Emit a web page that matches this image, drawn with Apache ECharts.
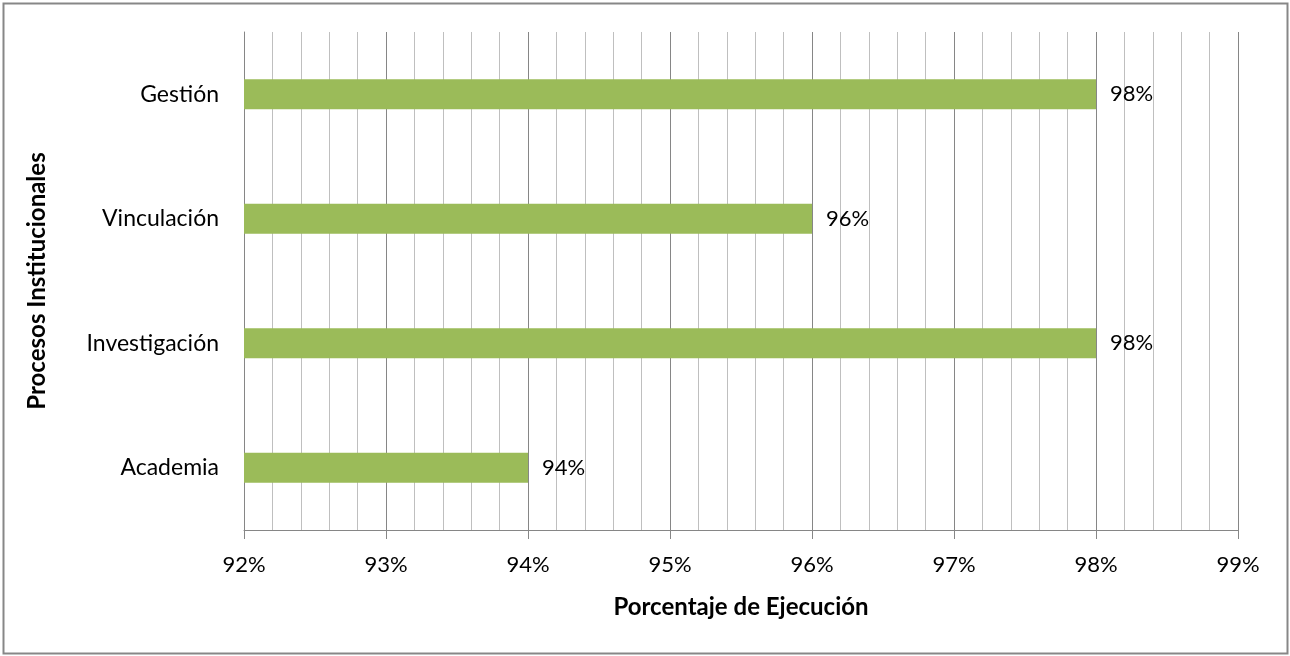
<!DOCTYPE html>
<html>
<head>
<meta charset="utf-8">
<script src="https://cdn.jsdelivr.net/npm/echarts@6/dist/echarts.min.js"></script>
<style>
  html, body { margin: 0; padding: 0; background: #fff; }
  #chart { width: 1290px; height: 656px; }
</style>
</head>
<body>
<div id="chart"></div>
<script>
// categories from bottom to top
const procesos = ['Academia', 'Investigación', 'Vinculación', 'Gestión'];
const ejecucion = [94, 98, 96, 98];
const xMin = 92;
const xMax = 99;

const font = 'Lato, "Open Sans", sans-serif';

let chart = echarts.init(document.getElementById('chart'));
chart.setOption({
  animation: false,
  textStyle: { fontFamily: font },
  graphic: [{
    type: 'rect',
    shape: { x: 3.5, y: 3.5, width: 1284, height: 650 },
    style: { fill: 'none', stroke: '#878787', lineWidth: 2 },
    silent: true
  }],
  grid: {
    left: 244,
    right: 52,
    top: 32,
    bottom: 126
  },
  xAxis: {
    type: 'value',
    min: xMin,
    max: xMax,
    interval: 1,
    name: 'Porcentaje de Ejecución',
    nameLocation: 'middle',
    nameGap: 65,
    nameTextStyle: { fontFamily: font, fontSize: 24, fontWeight: 'bold', color: '#000' },
    axisLine: { show: true, lineStyle: { color: '#868686', width: 1 } },
    axisTick: { show: true, length: 9, lineStyle: { color: '#868686' } },
    axisLabel: {
      formatter: '{value}%',
      fontFamily: font,
      fontSize: 22,
      color: '#000',
      margin: 24
    },
    splitLine: { show: true, lineStyle: { color: '#868686', width: 1 } },
    minorTick: { show: false, splitNumber: 5 },
    minorSplitLine: { show: true, lineStyle: { color: '#bfbfbf', width: 1 } }
  },
  yAxis: {
    type: 'category',
    data: procesos,
    name: 'Procesos Institucionales',
    nameLocation: 'middle',
    nameRotate: 90,
    nameGap: 195,
    nameTextStyle: { fontFamily: font, fontSize: 24, fontWeight: 'bold', color: '#000' },
    axisLine: { show: true, lineStyle: { color: '#868686', width: 1 } },
    axisTick: { show: false },
    axisLabel: { fontFamily: font, fontSize: 23, color: '#000', margin: 25 },
    splitLine: { show: false }
  },
  series: [{
    name: 'Ejecución',
    type: 'bar',
    data: ejecucion,
    barWidth: 30,
    itemStyle: { color: '#9bbb59' },
    label: {
      show: true,
      position: 'right',
      distance: 14,
      formatter: p => p.value + '%',
      fontFamily: font,
      fontSize: 22,
      color: '#000'
    }
  }]
});
window.addEventListener('resize', () => { chart.resize(); });
</script>
</body>
</html>
